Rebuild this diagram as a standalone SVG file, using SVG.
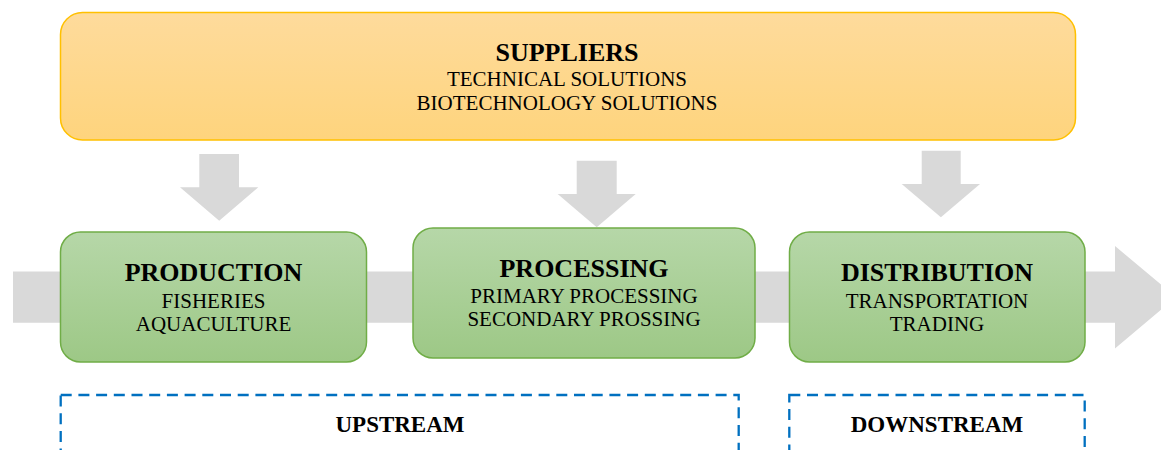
<svg xmlns="http://www.w3.org/2000/svg" width="1161" height="450" viewBox="0 0 1161 450">
  <defs>
    <linearGradient id="gradSupplier" x1="0" y1="0" x2="0" y2="1">
      <stop offset="0" stop-color="#FEDB9C"/>
      <stop offset="1" stop-color="#FED47D"/>
    </linearGradient>
    <linearGradient id="gradStage" x1="0" y1="0" x2="0" y2="1">
      <stop offset="0" stop-color="#B6D7A8"/>
      <stop offset="1" stop-color="#9DC886"/>
    </linearGradient>
    <style>
      .supplier { fill: url(#gradSupplier); stroke: #FFC000; stroke-width: 1.5; }
      .stage { fill: url(#gradStage); stroke: #70AD47; stroke-width: 1.5; }
      .flow { fill: #D9D9D9; }
      .zone { fill: none; stroke: #0070C0; stroke-width: 2.3; stroke-dasharray: 11 6.7; }
      text { font-family: "Liberation Serif", "Times New Roman", serif; fill: #000; text-anchor: middle; }
      .title { font-size: 26px; font-weight: bold; }
      .item { font-size: 21px; }
      .zoneLabel { font-size: 23px; font-weight: bold; }
    </style>
  </defs>

  <!-- main value-chain arrow behind the stages -->
  <g id="connectors">
    <polygon class="flow" points="13,271.5 1115,271.5 1115,246 1176,297.2 1115,348.4 1115,322.8 13,322.8"/>
    <!-- supply arrows -->
    <polygon class="flow" points="199.3,154 239,154 239,187.3 258.3,187.3 219.2,220.7 180,187.3 199.3,187.3"/>
    <polygon class="flow" points="576.7,160.7 616.7,160.7 616.7,194 635.7,194 596.7,227.3 557.7,194 576.7,194"/>
    <polygon class="flow" points="921.7,150.7 960.7,150.7 960.7,184 980,184 940.9,217.3 901.7,184 921.7,184"/>
  </g>

  <g id="suppliers">
    <rect class="supplier" x="60.5" y="12.5" width="1015" height="127.5" rx="22" ry="22"/>
    <text class="title" x="567" y="61">SUPPLIERS</text>
    <text class="item" x="567" y="86">TECHNICAL SOLUTIONS</text>
    <text class="item" x="567" y="110">BIOTECHNOLOGY SOLUTIONS</text>
  </g>

  <g id="production">
    <rect class="stage" x="60.5" y="232" width="306" height="130" rx="20" ry="20"/>
    <text class="title" x="213.5" y="281">PRODUCTION</text>
    <text class="item" x="213.5" y="307.5">FISHERIES</text>
    <text class="item" x="213.5" y="331">AQUACULTURE</text>
  </g>

  <g id="processing">
    <rect class="stage" x="413" y="228" width="342" height="130" rx="20" ry="20"/>
    <text class="title" x="584" y="276.5">PROCESSING</text>
    <text class="item" x="584" y="303">PRIMARY PROCESSING</text>
    <text class="item" x="584" y="326">SECONDARY PROSSING</text>
  </g>

  <g id="distribution">
    <rect class="stage" x="789.5" y="232" width="295.5" height="130" rx="20" ry="20"/>
    <text class="title" x="937" y="281">DISTRIBUTION</text>
    <text class="item" x="937" y="307.5">TRANSPORTATION</text>
    <text class="item" x="937" y="330.5">TRADING</text>
  </g>

  <g id="upstream">
    <rect class="zone" x="60.7" y="395" width="678" height="80"/>
    <text class="zoneLabel" x="400" y="432">UPSTREAM</text>
  </g>

  <g id="downstream">
    <rect class="zone" x="789.3" y="395" width="295.4" height="80"/>
    <text class="zoneLabel" x="937" y="432">DOWNSTREAM</text>
  </g>
</svg>
